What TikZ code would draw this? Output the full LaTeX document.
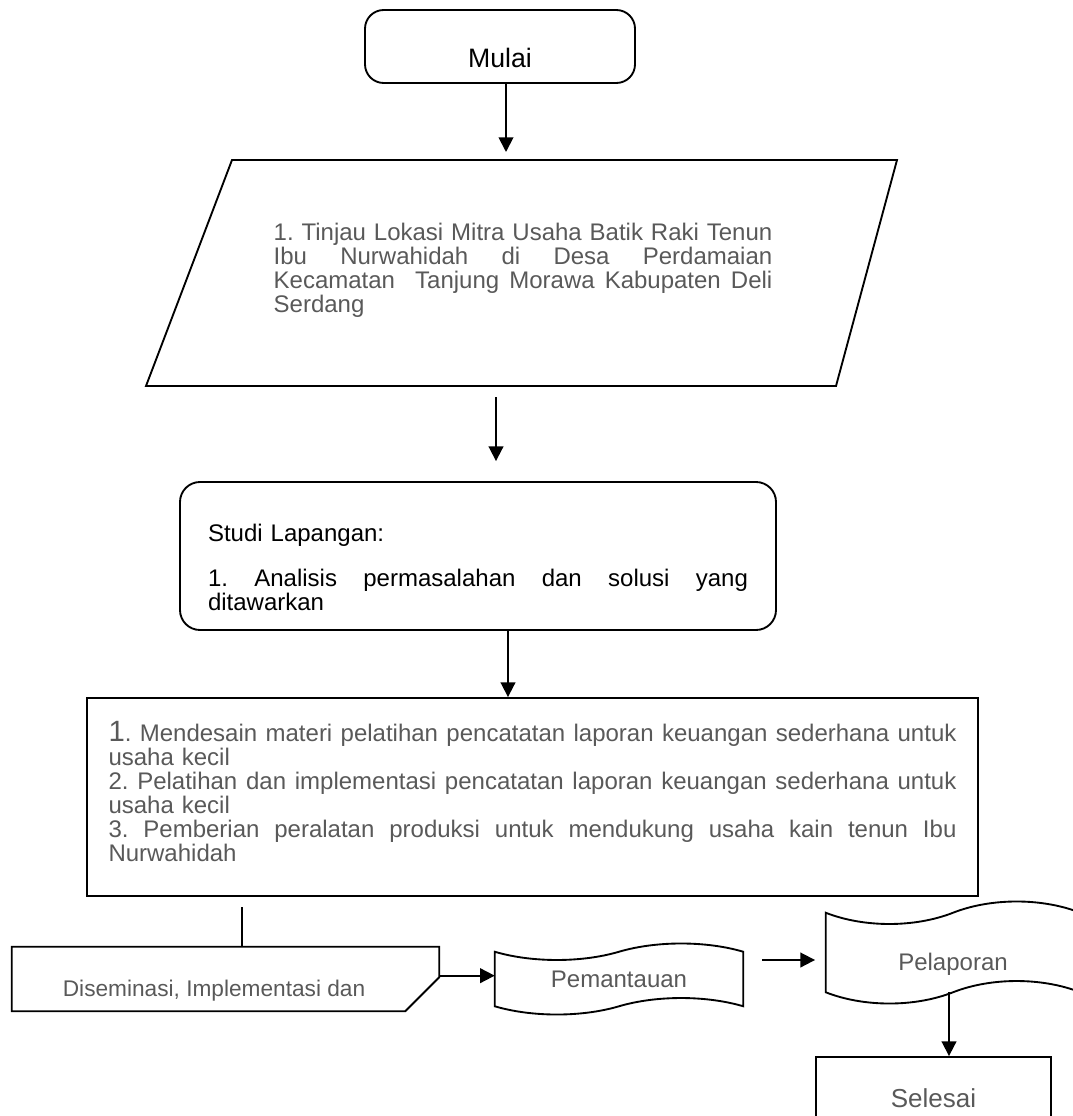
\documentclass[tikz,border=0pt]{standalone}
\usepackage{fontspec}
\setmainfont{Liberation Sans}
\usetikzlibrary{arrows.meta,calc,positioning}
\definecolor{txtgray}{RGB}{89,89,89}
% baselines closer than the glyphs would allow
\newcommand{\tightlines}{\lineskiplimit=-50pt\relax}
% one justified line inside a node with text width
\newcommand{\jline}[1]{\makebox[\hsize][s]{\frenchspacing\spaceskip=.278em plus 1fil\relax#1}\\}
% move a label inside its shape without changing the shape size
\newcommand{\nudge}[3]{\raisebox{#2}[0pt][0pt]{\makebox[0pt]{\hspace*{#1}#3\hspace*{-#1}}}}
% punched tape outline round a named node
\newcommand{\tapeoutline}[2]{%
  \draw[boxline] (#1.north west)
    .. controls ($(#1.north west)!0.3!(#1.north)+(0,#2)$) and ($(#1.north west)!0.7!(#1.north)+(0,#2)$) .. (#1.north)
    .. controls ($(#1.north)!0.3!(#1.north east)+(0,-#2)$) and ($(#1.north)!0.7!(#1.north east)+(0,-#2)$) .. (#1.north east)
    -- (#1.south east)
    .. controls ($(#1.south east)!0.3!(#1.south)+(0,-#2)$) and ($(#1.south east)!0.7!(#1.south)+(0,-#2)$) .. (#1.south)
    .. controls ($(#1.south)!0.3!(#1.south west)+(0,#2)$) and ($(#1.south)!0.7!(#1.south west)+(0,#2)$) .. (#1.south west)
    -- cycle;}

\begin{document}
\begin{tikzpicture}[x=0.75pt,y=-0.75pt,>={Triangle[length=11pt,width=11pt]},
    boxline/.style={draw,line width=1.4pt},
    arr/.style={->,line width=1.4pt},
    bodytext/.style={font=\fontsize{18}{18}\selectfont,text=txtgray,align=left}]
  \clip (0,0) rectangle (1073,1116);
  \node[boxline,rounded corners=14pt,minimum width=202.5pt,minimum height=54.75pt,font=\fontsize{20}{20}\selectfont] (mulai) at (500,46.5) {\nudge{0pt}{-15.4pt}{Mulai}};

  % input parallelogram
  \coordinate (pbl) at (146,386);
  \coordinate (ptl) at (232,160);
  \coordinate (ptr) at (897,160);
  \coordinate (pbr) at (836,386);
  \draw[boxline] (pbl) -- (ptl) -- (ptr) -- (pbr) -- cycle;
  \node[bodytext,text width=374pt] (tinjau) at (523,270) {\tightlines\jline{1. Tinjau Lokasi Mitra Usaha Batik Raki Tenun}\jline{Ibu Nurwahidah di Desa Perdamaian}\jline{Kecamatan\ \ Tanjung Morawa Kabupaten Deli}Serdang};

  \node[boxline,bodytext,text=black,rounded corners=15pt,minimum width=447pt,minimum height=111pt,inner xsep=21pt,text width=405pt,font=\fontsize{18}{16}\selectfont] (studi) at (478,556) {\tightlines\rule{0pt}{29.5pt}Studi Lapangan:\\[18pt]\jline{1. Analisis permasalahan dan solusi yang}ditawarkan};

  \node[boxline,bodytext,minimum width=668.25pt,minimum height=148.5pt,inner xsep=16pt,text width=636pt] (bigbox) at (532.5,797) {\tightlines\jline{{\fontsize{22}{18}\selectfont 1}. Mendesain materi pelatihan pencatatan laporan keuangan sederhana untuk}usaha kecil\\\jline{2. Pelatihan dan implementasi pencatatan laporan keuangan sederhana untuk}usaha kecil\\\jline{3. Pemberian peralatan produksi untuk mendukung usaha kain tenun Ibu}Nurwahidah\par\vspace*{7.5pt}};

  \node[minimum width=320.25pt,minimum height=48pt,font=\fontsize{17}{17}\selectfont,text=txtgray] (sebar) at (225.5,979) {\nudge{-8.6pt}{-12.75pt}{Diseminasi, Implementasi dan}};
  \draw[boxline] (sebar.north west) -- (sebar.north east) -- ($(sebar.south east)+(0,-34)$) -- ($(sebar.south east)+(-34,0)$) -- (sebar.south west) -- cycle;

  \node[minimum width=186pt,minimum height=40.5pt,font=\fontsize{18}{18}\selectfont,text=txtgray] (pantau) at (619,979) {Pemantauan};
  \tapeoutline{pantau}{11}
  \node[minimum width=190.5pt,minimum height=59.25pt,font=\fontsize{18}{18}\selectfont,text=txtgray] (lapor) at (953,952.5) {\nudge{0pt}{-13.5pt}{Pelaporan}};
  \tapeoutline{lapor}{15}
  \node[boxline,minimum width=176.25pt,minimum height=62.25pt,font=\fontsize{19.5}{20}\selectfont,text=txtgray] (selesai) at (933.5,1098.5) {Selesai};

  % connectors
  \coordinate (c1) at (506,0);
  \coordinate (c2) at (496,397);
  \coordinate (c3) at (508,0);
  \coordinate (c4) at (242,907);
  \coordinate (c5) at (762,960);
  \coordinate (c6) at (949,0);
  \draw[arr,shorten >=6pt] (c1 |- mulai.south) -- (c1 |- ptl);
  \draw[arr,shorten >=15pt] (c2) -- (c2 |- studi.north);
  \draw[arr] (c3 |- studi.south) -- (c3 |- bigbox.north);
  \draw[line width=1.4pt] (c4) -- (c4 |- sebar.north);
  \draw[arr] ([yshift=2.5pt]sebar.east) -- ([yshift=2.5pt]sebar.east -| pantau.west);
  \draw[arr,shorten >=8pt] (c5) -- (c5 -| lapor.west);
  \draw[arr] (c6 |- lapor.south) -- (c6 |- selesai.north);
\end{tikzpicture}
\end{document}
